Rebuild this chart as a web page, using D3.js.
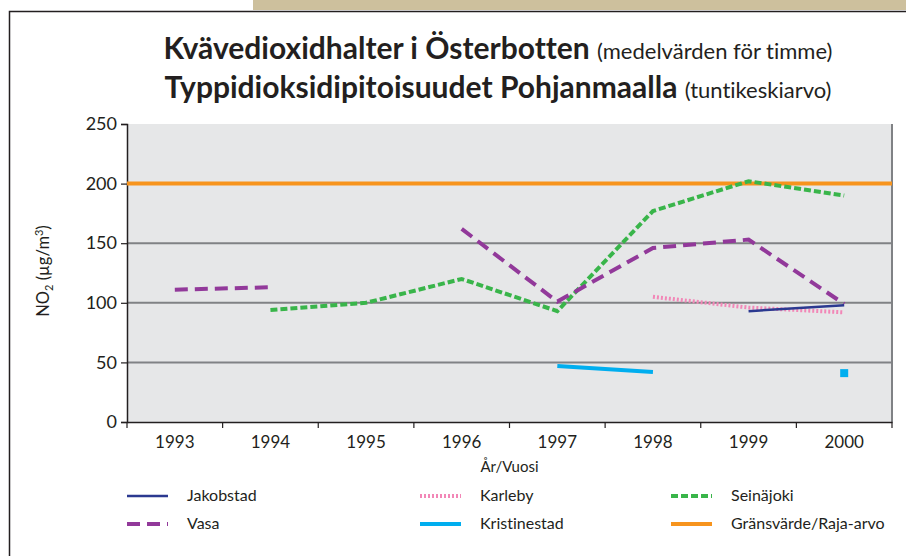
<!DOCTYPE html>
<html>
<head>
<meta charset="utf-8">
<script src="https://cdn.jsdelivr.net/npm/d3@7"></script>
<style>
 body { margin:0; background:#fff; }
 text { font-family: Lato, "Open Sans", sans-serif; fill:#231f20; font-variant-ligatures: none; }
</style>
</head>
<body>
<div id="chart"></div>
<script>
var years = ["1993","1994","1995","1996","1997","1998","1999","2000"];
var yTicks = [0,50,100,150,200,250];
var jakobstad    = [null,null,null,null,null,null,93,98];
var vasa         = [111,113,null,162,101,146,153,99];
var karleby      = [null,null,null,null,null,105,96,92];
var kristinestad = [null,null,null,null,47,42,null,41];
var seinajoki    = [null,94,100,120,93,177,202,190];
var gransvarde   = [200,200,200,200,200,200,200,200];

var series = [
  {name:"Jakobstad", values:jakobstad, color:"#2b3990", width:2.5, dash:null},
  {name:"Vasa", values:vasa, color:"#92399a", width:4, dash:"13,7"},
  {name:"Karleby", values:karleby, color:"#f287b7", width:4, dash:"2,2"},
  {name:"Kristinestad", values:kristinestad, color:"#00aeef", width:4, dash:null},
  {name:"Seinäjoki", values:seinajoki, color:"#39b54a", width:4, dash:"7,3"},
  {name:"Gränsvärde/Raja-arvo", values:gransvarde, color:"#f7941d", width:4, dash:null}
];

var W = 906, H = 556;
var margin = {top:124, right:14, bottom:134, left:127};
var width = W - margin.left - margin.right,
    height = H - margin.top - margin.bottom;

var svg = d3.select("#chart").append("svg")
  .attr("width", W).attr("height", H);

// frame
svg.append("rect").attr("x",253).attr("y",0).attr("width",W-253).attr("height",10).attr("fill","#cdc09d");
svg.append("path").attr("d","M9.5,"+H+"V11.5H"+W).attr("fill","none").attr("stroke","#231f20").attr("stroke-width",1.5);

// title
var t1 = svg.append("text").attr("x",498).attr("y",59).attr("text-anchor","middle");
t1.append("tspan").attr("font-weight","bold").attr("font-size",30).text("Kvävedioxidhalter i Österbotten ");
t1.append("tspan").attr("font-size",22).text("(medelvärden för timme)");
var t2 = svg.append("text").attr("x",498).attr("y",98).attr("text-anchor","middle");
t2.append("tspan").attr("font-weight","bold").attr("font-size",30).text("Typpidioksidipitoisuudet Pohjanmaalla ");
t2.append("tspan").attr("font-size",22).text("(tuntikeskiarvo)");

var g = svg.append("g").attr("transform","translate("+margin.left+","+margin.top+")");

var x = d3.scaleBand().domain(years).range([0,width]);
var y = d3.scaleLinear().domain([0,250]).range([height,0]);

g.append("rect").attr("width",width).attr("height",height).attr("fill","#e6e7e8");

// gridlines
g.selectAll(".grid").data(yTicks.filter(function(d){return d>0 && d<250;}))
  .enter().append("line")
  .attr("x1",0).attr("x2",width)
  .attr("y1",function(d){return y(d);}).attr("y2",function(d){return y(d);})
  .attr("stroke","#808285").attr("stroke-width",2);

// right border
g.append("line").attr("x1",width).attr("x2",width).attr("y1",0).attr("y2",height)
  .attr("stroke","#808285").attr("stroke-width",2);

// y axis
var yAxis = g.append("g").call(d3.axisLeft(y).tickValues(yTicks).tickSize(6).tickPadding(4));
yAxis.select(".domain").attr("stroke","#231f20").attr("stroke-width",1.5);
yAxis.selectAll(".tick line").attr("stroke","#231f20").attr("stroke-width",1.2);
yAxis.selectAll("text").attr("font-size",18).attr("font-family","Lato, sans-serif").attr("fill","#231f20");

// x axis
var xAxis = g.append("g").attr("transform","translate(0,"+height+")")
  .call(d3.axisBottom(x).tickSize(0).tickPadding(14));
xAxis.select(".domain").attr("stroke","#231f20").attr("stroke-width",1.5);
xAxis.selectAll("text").attr("font-size",17).attr("font-family","Lato, sans-serif").attr("fill","#231f20");
xAxis.selectAll(".bnd").data(years.concat(["end"])).enter().append("line")
  .attr("x1",function(d,i){return i*x.step();}).attr("x2",function(d,i){return i*x.step();})
  .attr("y1",0).attr("y2",6).attr("stroke","#231f20").attr("stroke-width",1.2);

// axis titles
svg.append("text").attr("x",margin.left+width/2).attr("y",472).attr("text-anchor","middle")
  .attr("font-size",15).text("År/Vuosi");
var yl = svg.append("text").attr("transform","translate(49,271) rotate(-90)").attr("text-anchor","middle").attr("font-size",16.5);
yl.append("tspan").text("NO");
yl.append("tspan").attr("font-size",11).attr("dy",4).text("2");
yl.append("tspan").attr("dy",-4).text(" (µg/m");
yl.append("tspan").attr("font-size",11).attr("dy",-6).text("3");
yl.append("tspan").attr("dy",6).text(")");

// lines
var line = d3.line()
  .defined(function(d){return d != null;})
  .x(function(d,i){return x(years[i]) + x.bandwidth()/2;})
  .y(function(d){return y(d);});

var drawOrder = [5,4,1,2,0,3];
drawOrder.forEach(function(k){
  var s = series[k];
  var path = g.append("path").attr("d", line(s.values)).attr("fill","none")
    .attr("stroke", s.color).attr("stroke-width", s.width);
  if (s.dash) path.attr("stroke-dasharray", s.dash);
  if (k === 5) path.attr("d", "M0,"+y(200)+"H"+width);
  // isolated points get a square marker
  s.values.forEach(function(v,i){
    if (v != null && s.values[i-1] == null && s.values[i+1] == null) {
      g.append("rect").attr("x", x(years[i]) + x.bandwidth()/2 - 4).attr("y", y(v) - 4)
        .attr("width",8).attr("height",8).attr("fill", s.color);
    }
  });
});

// legend
var legX = [127, 420, 671], legY = [496, 524];
var order = [0,2,4,1,3,5];
order.forEach(function(k, j){
  var s = series[k];
  var lx = legX[j % 3], ly = legY[Math.floor(j / 3)];
  var l = svg.append("line").attr("x1",lx).attr("x2",lx+41).attr("y1",ly).attr("y2",ly)
    .attr("stroke",s.color).attr("stroke-width", k===0 ? 2.5 : 4);
  if (s.dash) l.attr("stroke-dasharray", s.dash);
  svg.append("text").attr("x", lx + 60).attr("y", ly + 5).attr("font-size",16).text(s.name);
});
</script>
</body>
</html>
